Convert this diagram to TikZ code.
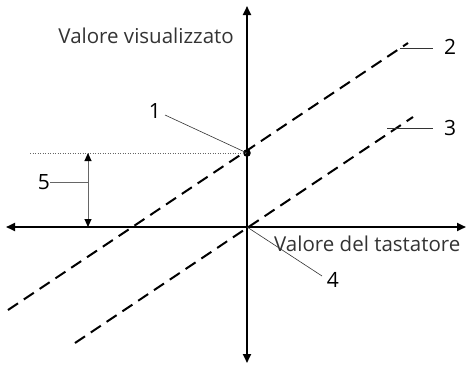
\documentclass[tikz,border=0pt]{standalone}
\usepackage{fontspec}
\setmainfont{Open Sans}
\usetikzlibrary{arrows.meta}
\begin{document}
\begin{tikzpicture}[x=1pt,y=-1pt,
  axis/.style={line width=2.2pt,{Triangle[length=9pt,width=8pt]}-{Triangle[length=9pt,width=8pt]}},
  graph/.style={line width=2pt,dash pattern=on 12pt off 7pt},
  leader/.style={line width=0.6pt,draw=black!80},
  num/.style={font=\fontsize{21}{21}\selectfont,text=black,inner sep=0pt},
  lbl/.style={font=\fontsize{20.5}{20.5}\selectfont,text=black!80,inner sep=0pt}]
\useasboundingbox (0,0) rectangle (467,367);
% axes
\coordinate (O) at (247,227);
\coordinate (yt) at (247,6);
\coordinate (yb) at (247,363);
\coordinate (xl) at (6,227);
\coordinate (xr) at (466,227);
\draw[axis] (yb) -- (yt);
\draw[axis] (xl) -- (xr);
% graph lines
\coordinate (P1) at (247,153);
\coordinate (l2a) at (8,310);
\coordinate (l2b) at (408,43);
\coordinate (l3a) at (75,343);
\coordinate (l3b) at (413,117);
\draw[graph] (l2a) -- (l2b);
\draw[graph] (l3a) -- (l3b);
\fill (P1) circle (3.8pt);
% dotted offset line
\coordinate (dl) at (30,153);
\draw[dotted,line width=0.5pt,draw=black!60] (dl) -- (P1);
% dimension 5
\coordinate (d5t) at (88,153);
\coordinate (d5b) at (88,227);
\coordinate (d5m) at (88,182);
\draw[line width=1pt,draw=black!60,{Triangle[length=8pt,width=7pt,color=black]}-{Triangle[length=8pt,width=7pt,color=black]}] (d5t) -- (d5b);
\node[num] (n5) at (44,182) {5};
\draw[leader,draw=black!60] (n5.east) -- (d5m);
% labels
\node[lbl,anchor=east] (ylab) at (234,36) {Valore visualizzato};
\node[lbl,anchor=west] (xlab) at (274,244) {Valore del tastatore};
\node[num] (n1) at (155,111) {1};
\draw[leader] (165,115) -- (P1);
\node[num,anchor=west] (n2) at (444,47) {2};
\draw[leader] (400,48) -- (433,48);
\node[num,anchor=west] (n3) at (444,128) {3};
\draw[leader] (387,128) -- (433,128);
\node[num] (n4) at (333,280) {4};
\draw[leader] (O) -- (322,276);
\end{tikzpicture}
\end{document}
